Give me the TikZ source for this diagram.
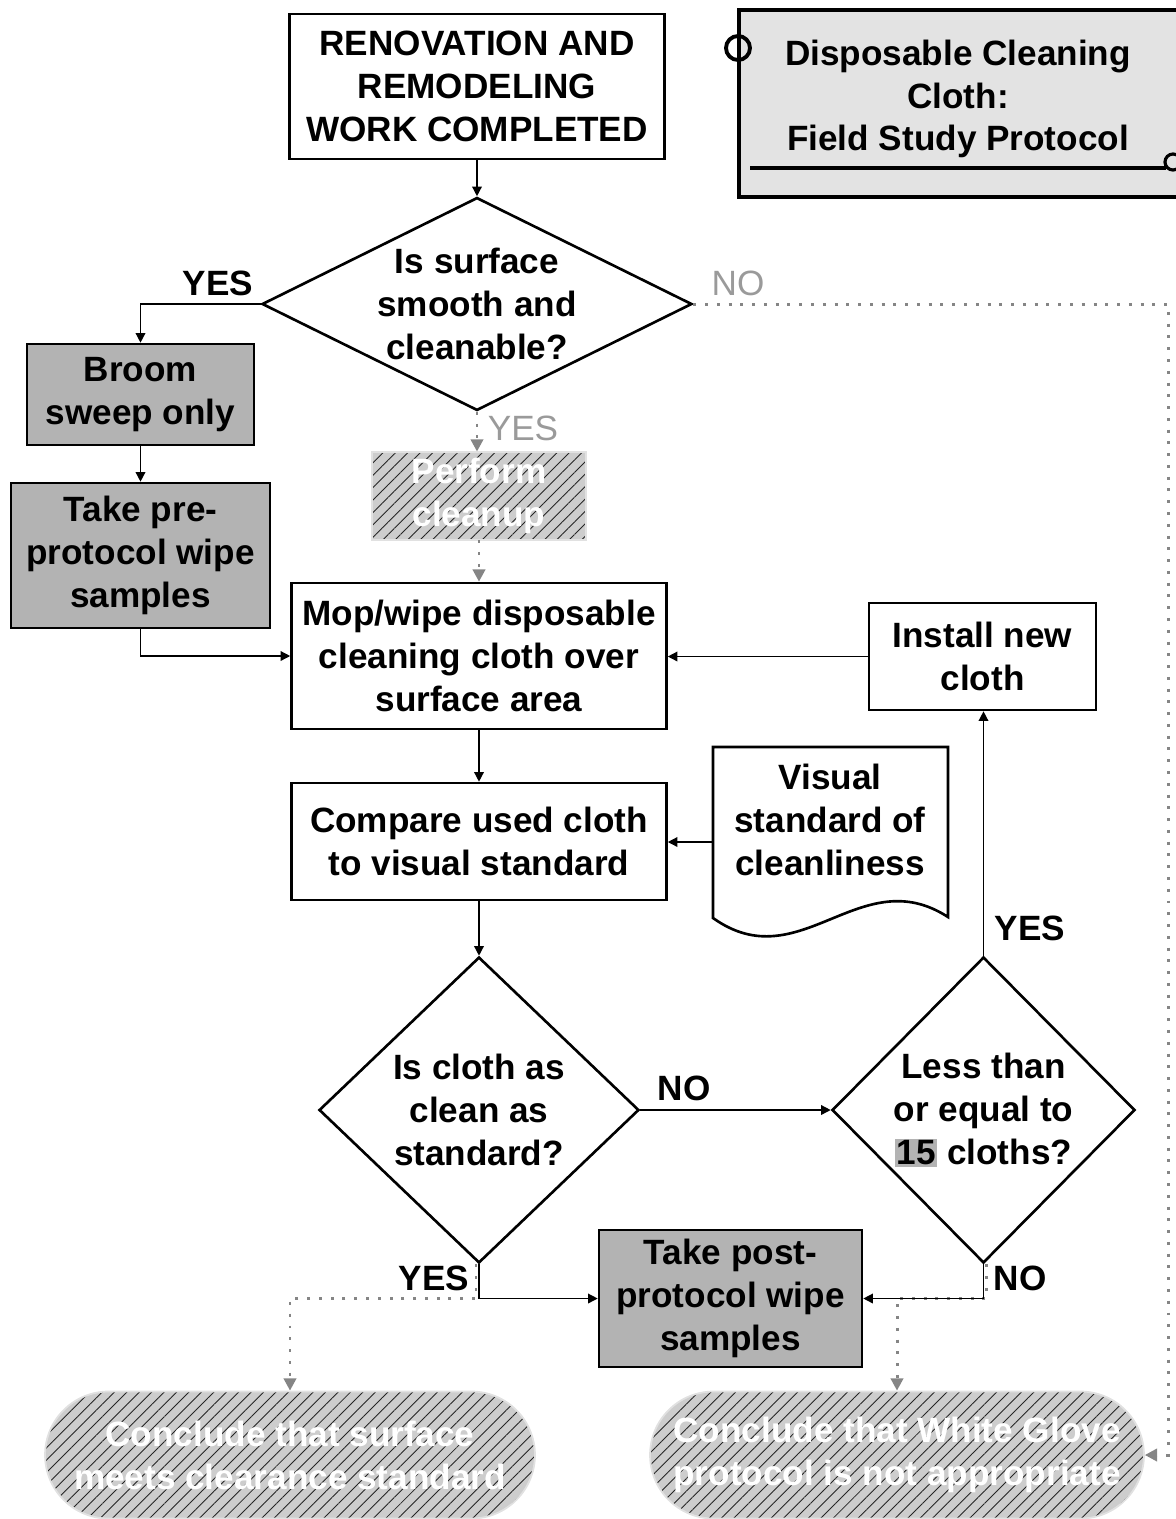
\documentclass[tikz,border=0pt]{standalone}
\usepackage{fontspec}
\setmainfont{Liberation Sans}
\usepackage{tikz}
\usetikzlibrary{arrows.meta, patterns.meta, shapes.geometric, shapes.misc, calc}

\definecolor{boxgray}{HTML}{B3B3B3}
\definecolor{titlegray}{HTML}{E3E3E3}
\definecolor{hatchgray}{HTML}{CDCDCD}
\definecolor{flowgray}{HTML}{858585}
\definecolor{labelgray}{HTML}{9A9A9A}

\tikzset{
    txt/.style={font=\fontsize{20}{24.4}\selectfont\bfseries, align=center},
    box/.style={txt, draw, line width=1.5pt, fill=white, inner sep=0pt},
    graybox/.style={box, fill=boxgray},
    decision/.style={diamond, draw, line width=1.5pt, inner sep=0pt},
    hatched/.style={txt, text=white, inner sep=0pt, draw=hatchgray!60, line width=1pt,
        preaction={fill=hatchgray},
        pattern={Lines[angle=45, distance=5pt, line width=0.5pt]}, pattern color=black!85},
    arr/.style={line width=0.8pt, -{Triangle[length=5.5pt, width=5.5pt]}},
    dots/.style={flowgray, line width=1.7pt, dash pattern=on 1.7pt off 5pt,
        -{Triangle[length=7pt, width=7pt]}},
    yesno/.style={font=\fontsize{20}{24}\selectfont\bfseries},
    greylbl/.style={font=\fontsize{20}{24}\selectfont, text=labelgray}
}

\begin{document}
\begin{tikzpicture}[x=0.02cm, y=-0.02cm]
    % Cadre
    \useasboundingbox (0,0) rectangle (1176,1519);
    \clip (0,0) rectangle (1176,1519);

    % Titre
    \draw[line width=2.2pt, fill=titlegray] (739,10) rectangle (1190,197);
    \node[txt] (title) at (958,99) {Disposable Cleaning\\Cloth:\\Field Study Protocol};
    \draw[line width=1.8pt] (750,168) -- (1166,168);
    \draw[line width=2.2pt] (738,48) circle (12);
    \draw[line width=1.8pt] (1173,162) circle (8);

    % Boites
    \node[box, minimum width=7.5cm, minimum height=2.9cm] (start) at (477,86.5)
        {RENOVATION AND\\REMODELING\\WORK COMPLETED};

    \node[decision, minimum width=8.6cm, minimum height=4.26cm] (surface) at (477,304) {};
    \node[txt] (surfacetxt) at (surface) {Is surface\\smooth and\\cleanable?};

    \node[graybox, minimum width=4.54cm, minimum height=2.02cm] (broom) at (140.5,394.5)
        {Broom\\sweep only};
    \node[graybox, minimum width=5.18cm, minimum height=2.9cm] (prewipe) at (140.5,555.5)
        {Take pre-\\protocol wipe\\samples};

    \node[hatched, minimum width=4.28cm, minimum height=1.76cm] (cleanup) at (479,496)
        {Perform\\cleanup};

    \node[box, minimum width=7.5cm, minimum height=2.92cm] (mop) at (479,656)
        {Mop/wipe disposable\\cleaning cloth over\\surface area};
    \node[box, minimum width=4.54cm, minimum height=2.14cm] (newcloth) at (982.5,656.5)
        {Install new\\cloth};

    \node[box, minimum width=7.5cm, minimum height=2.34cm] (compare) at (479,841.5)
        {Compare used cloth\\to visual standard};

    % Document
    \draw[line width=1.5pt, fill=white] (713,918) -- (713,747) -- (948,747) -- (948,917)
        .. controls (860,860) and (800,980) .. (713,918) -- cycle;
    \node[txt] (visual) at (830,820) {Visual\\standard of\\cleanliness};
    \coordinate (visualin) at (713,842);

    % Decisions
    \node[decision, minimum width=6.4cm, minimum height=6.12cm] (asclean) at (479,1110) {};
    \node[txt] (ascleantxt) at (asclean) {Is cloth as\\clean as\\standard?};

    \node[decision, minimum width=6.06cm, minimum height=6.12cm] (limit) at (983.5,1110) {};
    \node[txt] (limittxt) at (limit)
        {Less than\\or equal to\\{\fboxsep=1pt\colorbox{boxgray}{15}} cloths?};

    \node[graybox, minimum width=5.26cm, minimum height=2.74cm] (postwipe) at (730.5,1298.5)
        {Take post-\\protocol wipe\\samples};

    % Conclusions
    \node[hatched, rounded rectangle, minimum width=9.8cm, minimum height=2.54cm] (meets)
        at (290,1455) {Conclude that surface\\meets clearance standard};
    \node[hatched, rounded rectangle, minimum width=9.88cm, minimum height=2.54cm] (notapt)
        at (897,1455) {Conclude that White Glove\\protocol is not appropriate};

    % Fleches grises
    \coordinate (noturn) at (1168,304);
    \draw[dots] (surface.east) -- (noturn) |- (notapt.east);
    \draw[dots] (surface.south) -- (surface.south |- cleanup.north);
    \draw[dots] (cleanup.south) -- (mop.north);
    \draw[dots] ([xshift=-0.06cm]asclean.south) -- ([xshift=-0.06cm]asclean.south |- postwipe.west)
        -| (meets.north);
    \draw[dots] ([xshift=0.06cm]limit.south) -- ([xshift=0.06cm]limit.south |- postwipe.east)
        -| (notapt.north);

    % Fleches
    \draw[arr] (start) -- (surface);
    \draw[arr] (surface.west) -| (broom.north);
    \draw[arr] (broom) -- (prewipe);
    \draw[arr] (prewipe.south) |- (mop.west);
    \draw[arr] (newcloth.west) -- (newcloth.west -| mop.east);
    \draw[arr] (mop) -- (compare);
    \draw[arr] (visualin) -- (visualin -| compare.east);
    \draw[arr] (compare) -- (asclean);
    \draw[arr] (asclean.east) -- (limit.west);
    \draw[arr] (limit.north) -- (limit.north |- newcloth.south);
    \draw[arr] (asclean.south) |- (postwipe.west);
    \draw[arr] (limit.south) |- (postwipe.east);

    % Etiquettes
    \node[yesno] (yes1) at (218,283) {YES};
    \node[greylbl] (no1) at (738,283) {NO};
    \node[greylbl] (yes2) at (523,428) {YES};
    \node[yesno] (no2) at (684,1088) {NO};
    \node[yesno] (yes3) at (1030,928) {YES};
    \node[yesno] (yes4) at (434,1278) {YES};
    \node[yesno] (no3) at (1020,1278) {NO};
\end{tikzpicture}
\end{document}
